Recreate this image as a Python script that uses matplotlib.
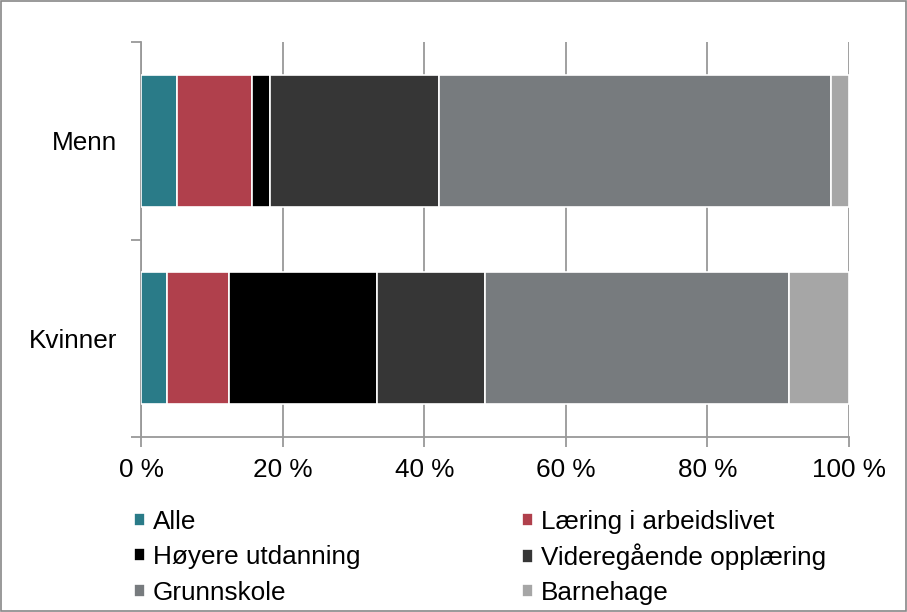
import matplotlib.pyplot as plt
import numpy as np

plt.rcParams['font.family'] = ['Liberation Sans', 'DejaVu Sans']

groups = ["Kvinner", "Menn"]
series = ["Alle", "Læring i arbeidslivet", "Høyere utdanning",
          "Videregående opplæring", "Grunnskole", "Barnehage"]
# shares in percent, order: Kvinner, Menn
alle = [3.7, 5.1]
laering = [8.7, 10.6]
hoyere = [20.9, 2.5]
videregaende = [15.3, 23.9]
grunnskole = [42.9, 55.4]
barnehage = [8.5, 2.5]
colors = ["#2a7b88", "#b0404c", "#000000", "#363636", "#777b7e", "#a6a6a6"]

values = [alle, laering, hoyere, videregaende, grunnskole, barnehage]
fs = 18.8
W, H = 907, 612

fig = plt.figure(figsize=(W / 100, H / 100), dpi=100)
ax = fig.add_axes([0.1555, 0.286, 0.7805, 0.645])

y = np.arange(len(groups))
left = np.zeros(len(groups))
for name, vals, c in zip(series, values, colors):
    ax.barh(y, vals, left=left, height=0.67, color=c, edgecolor="white",
            linewidth=1.2, label=name, zorder=3)
    left += np.array(vals)

ax.set_xlim(0, 100)
ax.set_ylim(-0.5, 1.5)
ax.set_xticks(range(0, 101, 20))
ax.set_xticklabels([f"{v} %" for v in range(0, 101, 20)], fontsize=fs)
ax.set_yticks(y)
ax.set_yticklabels(groups, fontsize=fs)
ax.set_yticks([-0.5, 0.5, 1.5], minor=True)
ax.tick_params(axis="y", which="major", length=0, pad=17)
ax.tick_params(axis="y", which="minor", length=7, color="#999999", width=1.3)
ax.tick_params(axis="x", length=7, color="#999999", width=1.3, pad=8)
ax.grid(axis="x", color="#999999", linewidth=1.3, zorder=0)
for s in ["top", "right"]:
    ax.spines[s].set_visible(False)
for s in ["left", "bottom"]:
    ax.spines[s].set_color("#999999")
    ax.spines[s].set_linewidth(1.3)

# legend: two columns, three rows, one entry each so rows line up
handles, labels = ax.get_legend_handles_labels()
col_x = [134, 522]
row_y = [522, 557, 593]
for i, (h, l) in enumerate(zip(handles, labels)):
    r, c = divmod(i, 2)
    fig.legend([h], [l], loc="center left",
               bbox_to_anchor=(col_x[c] / W, 1 - row_y[r] / H),
               frameon=False, fontsize=fs, handlelength=0.44,
               handleheight=0.42, handletextpad=0.27,
               borderaxespad=0, borderpad=0)

fig.patches.append(plt.Rectangle((0.001, 0.001), 0.998, 0.998, transform=fig.transFigure,
                                 fill=False, edgecolor="#888888", linewidth=1.2))

fig.savefig("out.png", dpi=100)
